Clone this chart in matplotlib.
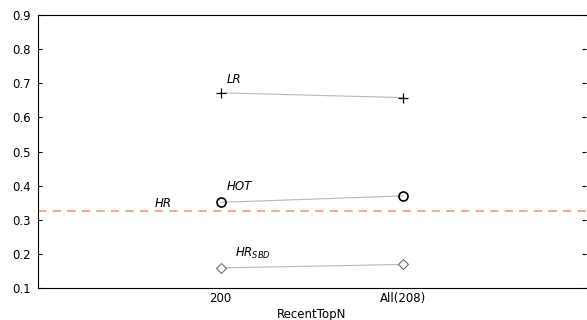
import matplotlib.pyplot as plt

plt.rcParams['font.family'] = ['DejaVu Sans']
plt.rcParams['mathtext.fontset'] = 'dejavusans'

# data
categories = ["200", "All(208)"]
lr = [0.672, 0.658]
hot = [0.351, 0.370]
hr_sbd = [0.159, 0.169]
hr = 0.326

x = [1, 2]

fig = plt.figure(figsize=(5.87, 3.2), dpi=100)
ax = fig.add_axes([0.065, 0.1, 0.933, 0.853])

ax.plot(x, lr, color="#b8b8b8", lw=0.8, zorder=1)
ax.plot(x, lr, ls="none", marker="+", ms=7, mew=0.9, color="black", zorder=2)
ax.plot(x, hot, color="#b8b8b8", lw=0.8, zorder=1)
ax.plot(x, hot, ls="none", marker="o", ms=6.5, mfc="none", mec="black", mew=1.2, zorder=2)
ax.plot(x, hr_sbd, color="#b8b8b8", lw=0.8, zorder=1)
ax.plot(x, hr_sbd, ls="none", marker="D", ms=5, mfc="white", mec="#707070", mew=0.8, zorder=2)
ax.axhline(hr, color="#f7a89c", lw=1.5, ls=(0, (4, 3)), zorder=0)

fs = 8.5
ax.text(x[0] + 0.03, lr[0] + 0.03, "LR", style="italic", fontsize=fs)
ax.text(x[0] + 0.03, hot[0] + 0.035, "HOT", style="italic", fontsize=fs)
ax.text(0.64, hr + 0.012, "HR", style="italic", fontsize=fs)
ax.text(x[0] + 0.08, hr_sbd[0] + 0.032, r"$\mathit{HR}_{\mathit{SBD}}$", fontsize=fs)

ax.set_xlim(0, 3)
ax.set_ylim(0.1, 0.9)
ax.set_xticks(x)
ax.set_xticklabels(categories, fontsize=fs)
ax.set_yticks([0.1, 0.2, 0.3, 0.4, 0.5, 0.6, 0.7, 0.8, 0.9])
ax.set_yticklabels(["0.1", "0.2", "0.3", "0.4", "0.5", "0.6", "0.7", "0.8", "0.9"], fontsize=fs)
ax.tick_params(axis="x", length=0, pad=3)
ax.tick_params(axis="y", direction="in", length=3, right=True, pad=5)
ax.spines["right"].set_visible(False)
ax.set_xlabel("RecentTopN", fontsize=fs, labelpad=2)

fig.savefig("out.png", dpi=100)
